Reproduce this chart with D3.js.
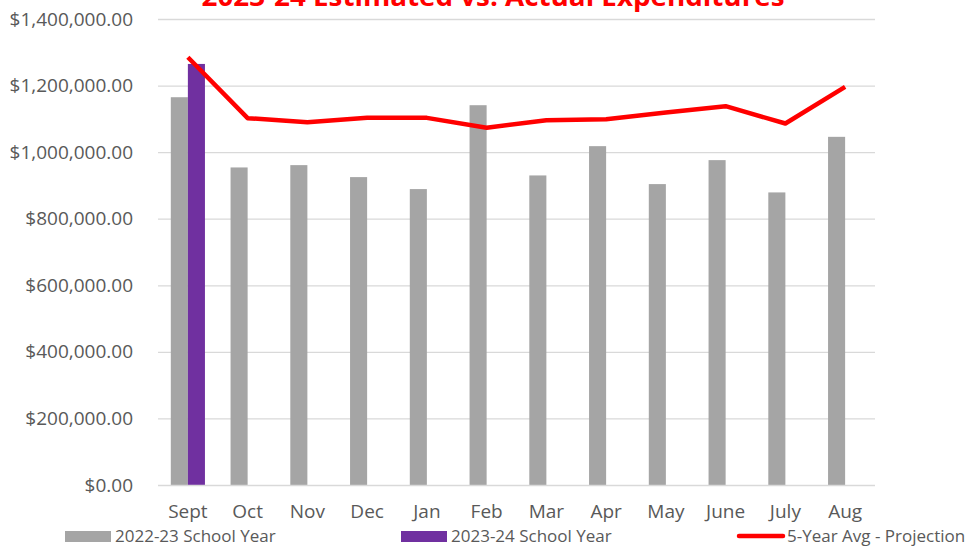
<!DOCTYPE html>
<html>
<head>
<meta charset="utf-8">
<script src="https://cdn.jsdelivr.net/npm/d3@7"></script>
<style>
  body { margin: 0; background: #fff; }
  text { font-family: "Open Sans", sans-serif; }
</style>
</head>
<body>
<svg width="970" height="546"></svg>
<script>
// data
const months = ['Sept', 'Oct', 'Nov', 'Dec', 'Jan', 'Feb', 'Mar', 'Apr', 'May', 'June', 'July', 'Aug'];
const lastYear = [1165000, 954000, 961000, 925000, 889000, 1141000, 930000, 1018000, 904000, 976000, 879000, 1046000];
const thisYear = [1265000, null, null, null, null, null, null, null, null, null, null, null];
const projection = [1285000, 1102000, 1090000, 1103000, 1103000, 1073000, 1096000, 1099000, 1119000, 1138000, 1086000, 1196000];
const yTicks = [0, 200000, 400000, 600000, 800000, 1000000, 1200000, 1400000];
const seriesNames = ['2022-23 School Year', '2023-24 School Year', '5-Year Avg - Projection'];

const svg = d3.select('svg');
const width = +svg.attr('width');

// colours
const gray = '#a5a5a5';
const purple = '#7030a0';
const red = '#ff0000';
const gridColor = '#d9d9d9';
const textColor = '#595959';

const plotLeft = 158, plotRight = 875, plotTop = 19, plotBottom = 485;

const x0 = d3.scaleBand()
    .domain(months)
    .range([plotLeft, plotRight])
    .paddingInner(1.5 / 3.5)
    .paddingOuter(0.75 / 3.5);

const x1 = d3.scaleBand()
    .domain(['last', 'this'])
    .range([0, x0.bandwidth()]);

const y = d3.scaleLinear()
    .domain([0, 1400000])
    .range([plotBottom, plotTop]);

// gridlines
svg.append('g')
    .selectAll('line').data(yTicks.slice(1))
    .enter().append('line')
        .attr('x1', plotLeft)
        .attr('x2', plotRight)
        .attr('y1', d => y(d) + 0.5)
        .attr('y2', d => y(d) + 0.5)
        .attr('stroke', gridColor)
        .attr('stroke-width', 1.3);

// y axis labels
const yAxis = svg.append('g')
    .attr('transform', `translate(${plotLeft - 25},0)`)
    .call(d3.axisLeft(y).tickValues(yTicks).tickFormat(d3.format('$,.2f')).tickSize(0).tickPadding(0));
yAxis.select('.domain').remove();
yAxis.selectAll('text')
    .attr('fill', textColor)
    .style('font-size', '19px')
    .style('font-family', '"Open Sans", sans-serif');

// bars
const groups = svg.append('g')
    .selectAll('g').data(months)
    .enter().append('g')
        .attr('transform', d => `translate(${x0(d)},0)`);

groups.append('rect')
    .attr('x', x1('last'))
    .attr('y', (d, i) => y(lastYear[i]))
    .attr('width', x1.bandwidth())
    .attr('height', (d, i) => y(0) - y(lastYear[i]))
    .attr('fill', gray);

groups.filter((d, i) => thisYear[i] != null).append('rect')
    .attr('x', x1('this'))
    .attr('y', d => y(thisYear[months.indexOf(d)]))
    .attr('width', x1.bandwidth())
    .attr('height', d => y(0) - y(thisYear[months.indexOf(d)]))
    .attr('fill', purple);

// x axis line
svg.append('line')
    .attr('x1', plotLeft).attr('x2', plotRight)
    .attr('y1', plotBottom + 0.5).attr('y2', plotBottom + 0.5)
    .attr('stroke', gridColor)
    .attr('stroke-width', 1.3);

// x axis labels
const xAxis = svg.append('g')
    .attr('transform', `translate(0,${plotBottom + 19})`)
    .call(d3.axisBottom(x0).tickSize(0).tickPadding(0));
xAxis.select('.domain').remove();
xAxis.selectAll('text')
    .attr('fill', textColor)
    .style('font-size', '19px')
    .style('font-family', '"Open Sans", sans-serif');

// projection line
const line = d3.line()
    .x((d, i) => x0(months[i]) + x0.bandwidth() / 2)
    .y(d => y(d));

svg.append('path')
    .datum(projection)
    .attr('d', line)
    .attr('fill', 'none')
    .attr('stroke', red)
    .attr('stroke-width', 4.5)
    .attr('stroke-linejoin', 'round');

// title (clipped at the top in the reference)
svg.append('text')
    .attr('x', 493)
    .attr('y', 6)
    .attr('text-anchor', 'middle')
    .attr('fill', red)
    .attr('textLength', 583)
    .attr('lengthAdjust', 'spacingAndGlyphs')
    .style('font-size', '27px')
    .style('font-weight', 'bold')
    .text('2023-24 Estimated vs. Actual Expenditures');

// legend
const legendY = 536;
const legend = svg.append('g');
const legendX = [65, 401, 737];

legend.append('rect')
    .attr('x', legendX[0]).attr('y', legendY - 5)
    .attr('width', 46).attr('height', 11)
    .attr('fill', gray);
legend.append('rect')
    .attr('x', legendX[1]).attr('y', legendY - 5)
    .attr('width', 46).attr('height', 11)
    .attr('fill', purple);
legend.append('line')
    .attr('x1', legendX[2] + 2).attr('x2', legendX[2] + 46)
    .attr('y1', legendY).attr('y2', legendY)
    .attr('stroke', red).attr('stroke-width', 4.5)
    .attr('stroke-linecap', 'round');

legend.selectAll('text').data(seriesNames)
    .enter().append('text')
        .attr('x', (d, i) => legendX[i] + 50)
        .attr('y', legendY)
        .attr('dy', '0.35em')
        .attr('fill', textColor)
        .style('font-size', '17px')
        .text(d => d);
</script>
</body>
</html>
